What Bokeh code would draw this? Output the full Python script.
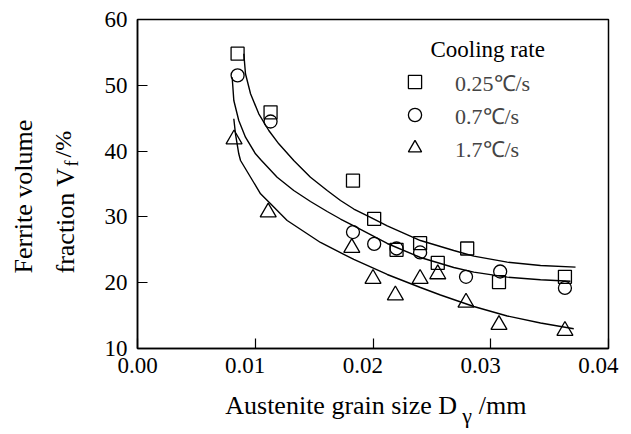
import math
from bokeh.plotting import figure
from bokeh.layouts import row, column
from bokeh.models import (Range1d, FixedTicker, NumeralTickFormatter, Legend, LegendItem, Label,
                          LinearAxis, CustomJSTickFormatter)
from bokeh.core.properties import value
from bokeh.embed import file_html
from bokeh.resources import INLINE

# ---------------- data ----------------
x_ticks = [0.00, 0.01, 0.02, 0.03, 0.04]
y_ticks = [10, 20, 30, 40, 50, 60]
series_names = ["0.25\u2103/s", "0.7\u2103/s", "1.7\u2103/s"]

# 0.25 C/s (squares)
sq_x = [0.0085, 0.0113, 0.0183, 0.0201, 0.0220, 0.0240, 0.0255, 0.0280, 0.0307, 0.0363]
sq_y = [54.8, 45.9, 35.5, 29.7, 25.0, 26.0, 23.0, 25.2, 20.1, 20.9]
# 0.7 C/s (circles)
ci_x = [0.0085, 0.0113, 0.0183, 0.0201, 0.0220, 0.0240, 0.0279, 0.0308, 0.0363]
ci_y = [51.5, 44.5, 27.7, 25.9, 25.2, 24.6, 20.9, 21.7, 19.2]
# 1.7 C/s (triangles)
tr_x = [0.0082, 0.0111, 0.0182, 0.0200, 0.0219, 0.0240, 0.0255, 0.0279, 0.0307, 0.0363]
tr_y = [41.8, 30.7, 25.3, 20.6, 18.1, 20.6, 21.3, 17.0, 13.6, 12.7]

# fitted curves
fit_hi_x = [0.00903, 0.00917, 0.00960, 0.01030, 0.01115, 0.01200, 0.01327, 0.01469, 0.01611,
            0.01724, 0.01837, 0.01979, 0.02121, 0.02403, 0.02686, 0.02856, 0.03140, 0.03423, 0.03720]
fit_hi_y = [54.79, 51.75, 48.71, 45.67, 43.13, 41.11, 38.57, 36.03, 34.01,
            32.49, 31.20, 29.91, 28.62, 26.41, 24.89, 24.03, 23.12, 22.61, 22.36]
fit_mid_x = [0.00804, 0.00818, 0.00860, 0.00917, 0.01002, 0.01045, 0.01186, 0.01327, 0.01469,
             0.01611, 0.01724, 0.01837, 0.02121, 0.02403, 0.02686, 0.02856, 0.03140, 0.03423, 0.03677]
fit_mid_y = [51.23, 47.69, 44.65, 42.11, 39.59, 38.72, 36.03, 34.01, 32.34,
             30.82, 29.68, 28.62, 25.96, 23.83, 22.31, 21.60, 20.84, 20.44, 20.23]
fit_lo_x = [0.00818, 0.00832, 0.00860, 0.00875, 0.01045, 0.01130, 0.01214, 0.01271, 0.01554,
            0.01837, 0.02121, 0.02403, 0.02573, 0.02856, 0.03140, 0.03423, 0.03705]
fit_lo_y = [44.91, 42.63, 39.59, 38.57, 33.51, 31.99, 30.47, 29.45, 26.11,
            23.53, 21.25, 19.27, 18.13, 16.38, 14.94, 13.88, 13.00]

FONT = "Liberation Serif"

# ---------------- main plot ----------------
p = figure(width=541, height=388, output_backend="svg", toolbar_location=None,
           x_range=Range1d(0.0, 0.04), y_range=Range1d(10, 60),
           min_border_left=47, min_border_right=23, min_border_top=19, min_border_bottom=40)
p.background_fill_color = "white"
p.border_fill_color = "white"
p.outline_line_color = "black"
p.outline_line_width = 1.5
p.xgrid.visible = False
p.ygrid.visible = False

for ax in (p.xaxis[0], p.yaxis[0]):
    ax.axis_line_width = 1.5
    ax.axis_line_color = "black"
    ax.major_tick_in = 10
    ax.major_tick_out = 0
    ax.major_tick_line_width = 1.2
    ax.minor_tick_in = 0
    ax.minor_tick_out = 0
    ax.major_label_standoff = 10
    ax.major_label_text_font = FONT
    ax.major_label_text_font_size = "23px"
    ax.major_label_text_color = "black"

# bottom axis: ticks only; its labels come from a companion axis whose
# label anchors sit a little to the left of the ticks, as in the source figure
p.xaxis[0].ticker = FixedTicker(ticks=x_ticks)
p.xaxis[0].formatter = CustomJSTickFormatter(code="return ''")
p.xaxis[0].major_label_standoff = 0
label_shift = 0.00085
lbl_ticks = [max(t - label_shift, 0.0) for t in x_ticks]
xl = LinearAxis(ticker=FixedTicker(ticks=lbl_ticks),
                formatter=CustomJSTickFormatter(code="return (Math.round(tick * 100) / 100).toFixed(2)"),
                axis_line_color=None, major_tick_in=0, major_tick_out=0,
                minor_tick_in=0, minor_tick_out=0, major_label_standoff=9,
                major_label_text_font=FONT, major_label_text_font_size="23px",
                major_label_text_color="black")
p.add_layout(xl, "below")

p.yaxis[0].ticker = FixedTicker(ticks=y_ticks)
p.yaxis[0].formatter = NumeralTickFormatter(format="0")

for fx, fy in ((fit_hi_x, fit_hi_y), (fit_mid_x, fit_mid_y), (fit_lo_x, fit_lo_y)):
    p.line(fx, fy, line_color="black", line_width=1.4)

r_sq = p.scatter(sq_x, sq_y, marker="square", size=13, fill_color=None,
                 line_color="black", line_width=1.3)
r_ci = p.scatter(ci_x, ci_y, marker="circle", size=13, fill_color=None,
                 line_color="black", line_width=1.3)
r_tr = p.scatter(tr_x, tr_y, marker="triangle", size=16, fill_color=None,
                 line_color="black", line_width=1.3)

legend = Legend(items=[LegendItem(label=value(series_names[0]), renderers=[r_sq]),
                       LegendItem(label=value(series_names[1]), renderers=[r_ci]),
                       LegendItem(label=value(series_names[2]), renderers=[r_tr])],
                location=(261, 184), glyph_width=33, glyph_height=33, spacing=0,
                padding=0, margin=0, label_standoff=24,
                label_text_font=FONT, label_text_font_size="22px",
                label_text_baseline="middle",
                border_line_color=None, background_fill_alpha=0)
p.add_layout(legend)
p.add_layout(Label(x=293, y=299, x_units="screen", y_units="screen", text="Cooling rate",
                   text_font=FONT, text_font_size="23px", text_color="black",
                   text_baseline="alphabetic"))


def helper(w, h):
    f = figure(width=w, height=h, output_backend="svg", toolbar_location=None,
               x_range=Range1d(0, w), y_range=Range1d(0, h),
               x_axis_type=None, y_axis_type=None, min_border=0)
    f.outline_line_color = None
    f.xgrid.visible = False
    f.ygrid.visible = False
    f.background_fill_color = "white"
    f.border_fill_color = "white"
    return f


def lab(fig, text, x, y, size, angle=0.0, align="left"):
    fig.add_layout(Label(x=x, y=y, text=text, text_font=FONT, text_font_size=size,
                         text_color="black", text_align=align,
                         text_baseline="alphabetic", angle=angle))


# y-axis title (left strip, 90 x 434)
yfig = helper(90, 434)
ang = math.pi / 2
lab(yfig, "Ferrite volume", 23, 161, "26px", ang)
lab(yfig, "fraction V", 65, 161, "26px", ang)
lab(yfig, "f", 71, 268, "18px", ang)
lab(yfig, "/%", 62, 277, "24px", ang)

# x-axis title (bottom strip, 541 x 46)
xfig = helper(541, 46)
lab(xfig, "Austenite grain size D", 367, 29, "26px", align="right")
lab(xfig, "\u03b3", 373, 19, "22px")
lab(xfig, "/mm", 392, 29, "26px")

layout = row(yfig, column(p, xfig, spacing=0), spacing=0)

open("out.html", "w").write(file_html(layout, INLINE))
